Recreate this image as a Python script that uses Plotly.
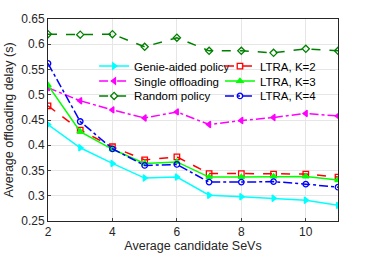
import plotly.graph_objects as go

x = [2, 3, 4, 5, 6, 7, 8, 9, 10, 11]
genie = [0.441, 0.395, 0.364, 0.335, 0.337, 0.301, 0.298, 0.295, 0.291, 0.281]
single = [0.514, 0.488, 0.470, 0.454, 0.466, 0.441, 0.449, 0.455, 0.463, 0.458]
random_p = [0.620, 0.619, 0.620, 0.595, 0.613, 0.587, 0.587, 0.583, 0.591, 0.587]
k2 = [0.478, 0.430, 0.397, 0.371, 0.377, 0.344, 0.344, 0.343, 0.343, 0.337]
k3 = [0.519, 0.427, 0.392, 0.364, 0.367, 0.337, 0.337, 0.338, 0.338, 0.331]
k4 = [0.562, 0.447, 0.393, 0.360, 0.362, 0.327, 0.327, 0.328, 0.323, 0.317]

fig = go.Figure()
def add(y, name, color, dash, sym, legend, msize=5.5):
    fig.add_trace(go.Scatter(x=x, y=y, name=name, mode="lines+markers",
                             line=dict(color=color, dash=dash, width=1.5),
                             marker=dict(symbol=sym, color=color, size=msize,
                                         line=dict(color=color, width=1.3)),
                             legend=legend, showlegend=True))

add(genie, "Genie-aided policy", "#00ffff", "solid", "triangle-right", "legend")
add(single, "Single offloading", "#ff00ff", "dashdot", "triangle-left", "legend2")
add(random_p, "Random policy", "#008000", "dash", "diamond-open", "legend3")
add(k2, "LTRA, K=2", "#ff0000", "dash", "square-open", "legend4")
add(k3, "LTRA, K=3", "#00ff00", "solid", "triangle-up", "legend5")
add(k4, "LTRA, K=4", "#0000ff", "dashdot", "circle-open", "legend6")

font = dict(family="Liberation Sans, Arial, sans-serif", size=12, color="#262626")

def leg(xp, yp):
    return dict(x=xp, y=yp, bgcolor="rgba(255,255,255,0)",
                font=dict(family="Liberation Sans, Arial", size=11.5, color="#000"),
                itemwidth=30, yanchor="middle", xanchor="left", visible=True)

rows = [0.767, 0.693, 0.619]
fig.update_layout(
    width=374, height=253,
    margin=dict(l=48, r=36, t=19, b=32),
    paper_bgcolor="white", plot_bgcolor="white",
    font=font, showlegend=True,
    legend=leg(0.159, rows[0]),
    legend2=leg(0.159, rows[1]),
    legend3=leg(0.159, rows[2]),
    legend4=leg(0.593, rows[0]),
    legend5=leg(0.593, rows[1]),
    legend6=leg(0.593, rows[2]),
    shapes=[dict(type="rect", xref="paper", yref="paper", x0=0.193, x1=0.879, y0=0.579, y1=0.812,
                 fillcolor="white", line=dict(width=0), layer="between")],
    xaxis=dict(range=[2, 11], tickvals=[2, 4, 6, 8, 10], showgrid=True, gridcolor="#e6e6e6",
               showline=True, linecolor="#262626", linewidth=1, mirror=True, ticks="inside", ticklen=3,
               automargin=False, zeroline=False,
               title=dict(text="Average candidate SeVs", standoff=4, font=dict(size=12.5))),
    yaxis=dict(range=[0.25, 0.65], dtick=0.05, tickformat=".2~f", showgrid=True, gridcolor="#e6e6e6",
               showline=True, linecolor="#262626", linewidth=1, mirror=True, ticks="inside", ticklen=3,
               automargin=False, zeroline=False,
               title=dict(text="Average offloading delay (s)", standoff=4, font=dict(size=12.5))),
)
fig.write_html("out.html", config={"displayModeBar": False},
               post_script="document.body.style.margin='0px';document.body.style.overflow='hidden';")
